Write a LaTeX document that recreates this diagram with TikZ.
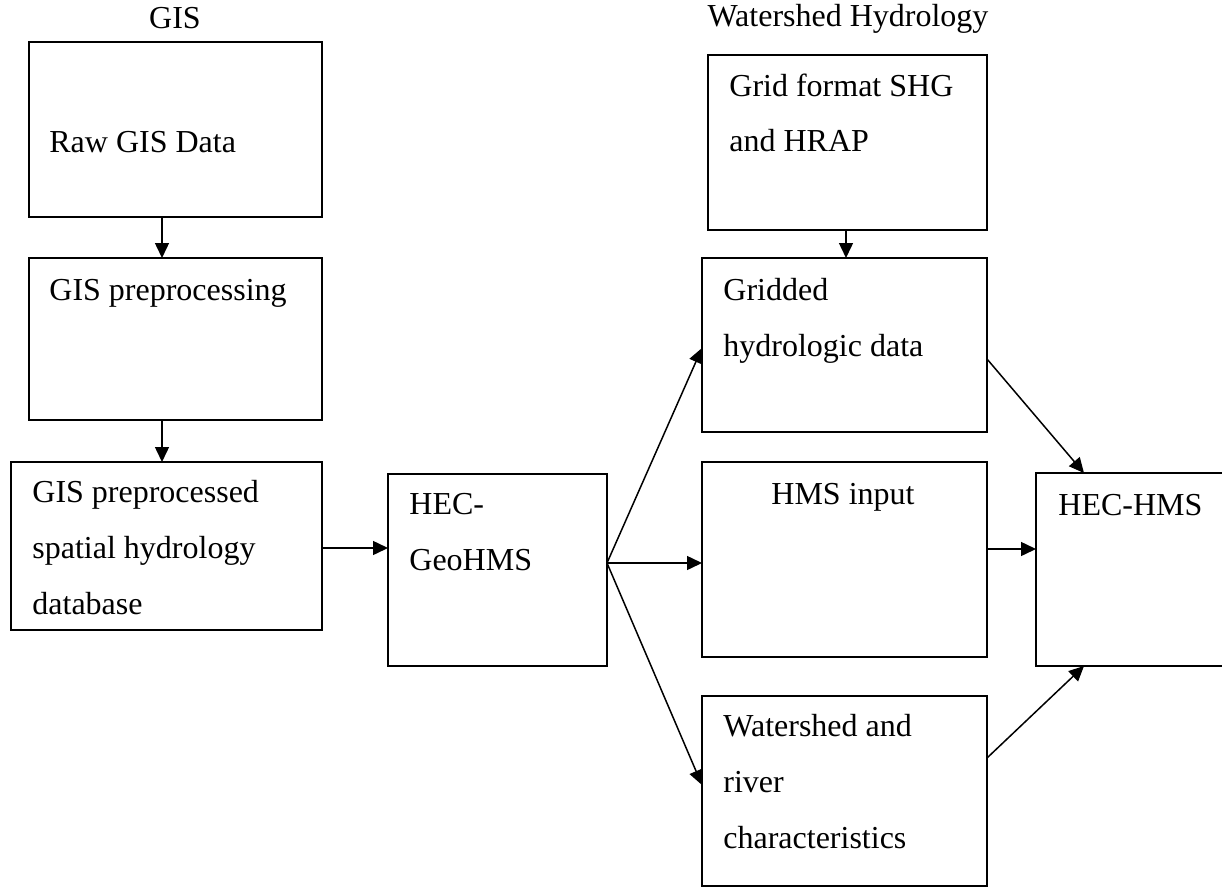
\documentclass[tikz,border=0pt]{standalone}
\usepackage{fontspec}
\setmainfont{Liberation Serif}
\usetikzlibrary{arrows.meta}

\begin{document}
\begin{tikzpicture}[x=0.5pt,y=-0.5pt,
  blk/.style={draw,line width=0.75pt,anchor=north west,inner sep=0pt,outer sep=0pt},
  lbl/.style={anchor=base west,inner sep=0pt,align=left,font=\fontsize{16}{28}\selectfont},
  arw/.style={line width=0.75pt,-{Triangle[length=7.5pt,width=7pt]}}]
\useasboundingbox (0,0) rectangle (1222,888);

% headings
\node[lbl,anchor=base] (gishead) at (175,29) {GIS};
\node[lbl,anchor=base] (wshead) at (848,27) {Watershed Hydrology};

% GIS column (multi-line labels sit on their last baseline)
\node[blk,minimum width=146.5pt,minimum height=87.5pt] (raw) at (29,42) {};
\node[lbl] (rawtxt) at (49,153) {Raw GIS Data};
\node[blk,minimum width=146.5pt,minimum height=81pt] (prep) at (29,258) {};
\node[lbl] (preptxt) at (49,300) {GIS preprocessing};
\node[blk,minimum width=155.5pt,minimum height=84pt] (db) at (11,462) {};
\node[lbl] (dbtxt) at (32,614) {GIS preprocessed\\spatial hydrology\\database};

\node[blk,minimum width=109.5pt,minimum height=96pt] (geo) at (388,474) {};
\node[lbl] (geotxt) at (409,570) {HEC-\\GeoHMS};

% watershed hydrology column
\node[blk,minimum width=139.5pt,minimum height=87.5pt] (grid) at (708,55) {};
\node[lbl] (gridtxt) at (729,152) {Grid format SHG\\and HRAP};
\node[blk,minimum width=142.5pt,minimum height=87pt] (gridded) at (702,258) {};
\node[lbl] (griddedtxt) at (723,356) {Gridded\\hydrologic data};
\node[blk,minimum width=142.5pt,minimum height=97.5pt] (hmsin) at (702,462) {};
\node[lbl,anchor=base] (hmsintxt) at (843,504) {HMS input};
\node[blk,minimum width=142.5pt,minimum height=95pt] (ws) at (702,696) {};
\node[lbl] (wstxt) at (723,848) {Watershed and\\river\\characteristics};

\node[blk,minimum width=100pt,minimum height=96.5pt] (hechms) at (1036,473) {};
\node[lbl] (hechmstxt) at (1058,515) {HEC-HMS};

\coordinate (fan) at ([yshift=-44.5pt]geo.north east);

\draw[arw] ([xshift=66.5pt]raw.south west) -- ([xshift=66.5pt]prep.north west);
\draw[arw] ([xshift=66.5pt]prep.south west) -- ([xshift=75.5pt]db.north west);
\draw[arw] ([yshift=-43pt]db.north east) -- ([yshift=-37pt]geo.north west);
\draw[arw] ([xshift=69pt]grid.south west) -- ([xshift=72pt]gridded.north west);

\draw[arw] (fan) -- ([yshift=-45pt]gridded.north west);
\draw[arw] (fan) -- ([yshift=-50.5pt]hmsin.north west);
\draw[arw] (fan) -- ([yshift=-44.5pt]ws.north west);

\draw[arw] ([yshift=-50.5pt]gridded.north east) -- ([xshift=24pt]hechms.north west);
\draw[arw] ([yshift=-43.5pt]hmsin.north east) -- ([yshift=-38pt]hechms.north west);
\draw[arw] ([yshift=-31pt]ws.north east) -- ([xshift=24pt]hechms.south west);
\end{tikzpicture}
\end{document}
